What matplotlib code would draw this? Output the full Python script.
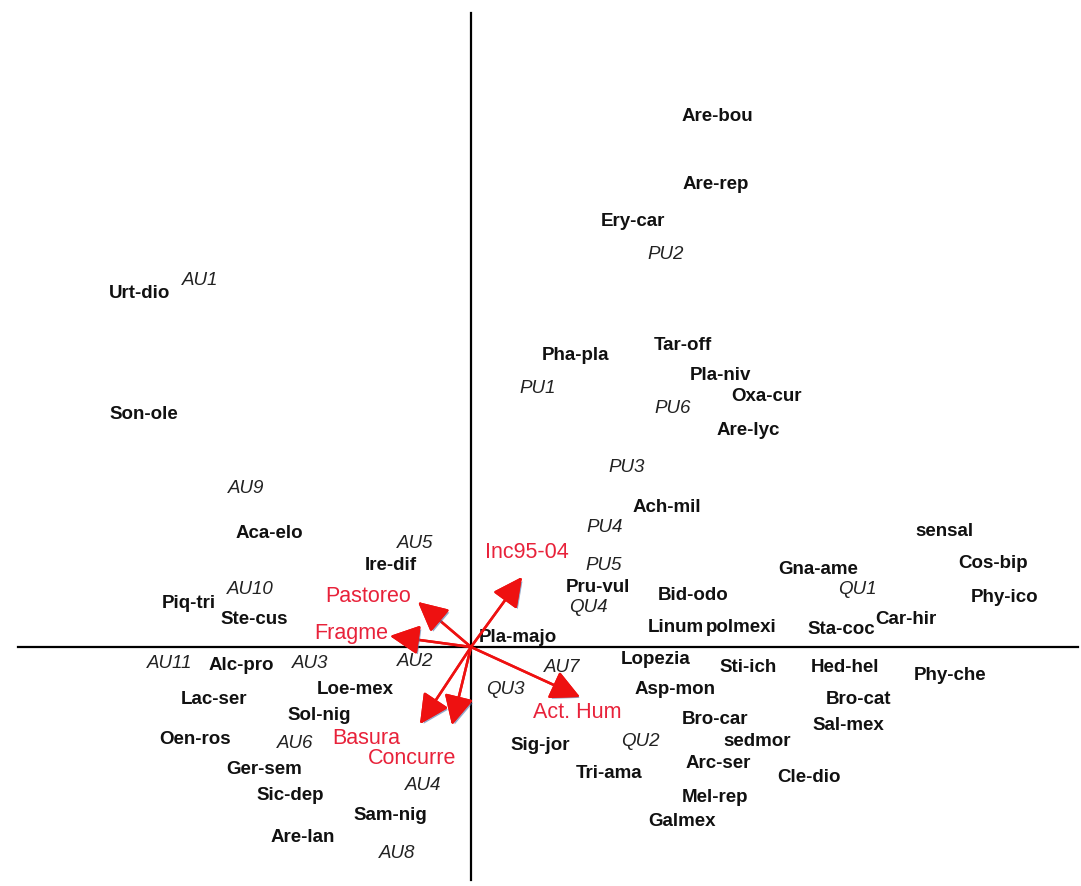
import matplotlib
matplotlib.use("Agg")
import matplotlib.pyplot as plt
import matplotlib.patheffects as pe

# CCA ordination scores (axis 1, axis 2)
species = ["Are-bou", "Are-rep", "Ery-car", "Urt-dio", "Pha-pla", "Tar-off", "Pla-niv",
           "Oxa-cur", "Are-lyc", "Son-ole", "Ach-mil", "Aca-elo", "Ire-dif", "sensal",
           "Cos-bip", "Gna-ame", "Pru-vul", "Bid-odo", "Phy-ico", "Piq-tri", "Ste-cus",
           "Linum", "polmexi", "Sta-coc", "Car-hir", "Pla-majo", "Lopezia", "Sti-ich",
           "Hed-hel", "Phy-che", "Alc-pro", "Loe-mex", "Lac-ser", "Asp-mon", "Bro-cat",
           "Sol-nig", "Bro-car", "Sal-mex", "sedmor", "Oen-ros", "Sig-jor", "Arc-ser",
           "Ger-sem", "Tri-ama", "Cle-dio", "Sic-dep", "Mel-rep", "Sam-nig", "Galmex",
           "Are-lan"]
sp_ax1 = [2.46, 2.45, 1.62, -3.31, 1.04, 2.12, 2.49, 2.95, 2.77, -3.27, 1.96, -2.02,
          -0.80, 4.73, 5.22, 3.47, 1.27, 2.22, 5.34, -2.82, -2.17, 2.05, 2.70, 3.70,
          4.35, 0.47, 1.85, 2.77, 3.74, 4.79, -2.30, -1.16, -2.57, 2.04, 3.87, -1.52,
          2.44, 3.77, 2.86, -2.76, 0.69, 2.47, -2.07, 1.38, 3.38, -1.81, 2.44, -0.81,
          2.11, -1.68]
sp_ax2 = [5.30, 4.62, 4.25, 3.53, 2.91, 3.01, 2.71, 2.50, 2.16, 2.32, 1.39, 1.14,
          0.81, 1.15, 0.83, 0.78, 0.60, 0.51, 0.50, 0.44, 0.27, 0.20, 0.20, 0.17,
          0.27, 0.10, -0.13, -0.21, -0.20, -0.28, -0.18, -0.42, -0.53, -0.42, -0.53,
          -0.69, -0.73, -0.79, -0.95, -0.93, -0.99, -1.16, -1.22, -1.27, -1.30, -1.49,
          -1.51, -1.68, -1.75, -1.90]

sites = ["AU1", "PU2", "PU1", "PU6", "PU3", "AU9", "PU4", "AU5", "PU5", "AU10", "QU1",
         "QU4", "AU11", "AU3", "AU2", "AU7", "QU3", "AU6", "QU2", "AU4", "AU8"]
st_ax1 = [-2.71, 1.95, 0.67, 2.02, 1.56, -2.25, 1.34, -0.56, 1.33, -2.21, 3.86,
          1.17, -3.01, -1.61, -0.56, 0.91, 0.34, -1.76, 1.69, -0.48, -0.74]
st_ax2 = [3.66, 3.92, 2.58, 2.38, 1.79, 1.58, 1.19, 1.04, 0.81, 0.57, 0.57,
          0.39, -0.17, -0.16, -0.14, -0.21, -0.43, -0.96, -0.94, -1.39, -2.06]

env = ["Inc95-04", "Pastoreo", "Fragme", "Basura", "Concurre", "Act. Hum"]
env_ax1 = [0.51, -0.53, -0.81, -0.51, -0.19, 1.09]
env_ax2 = [0.70, 0.45, 0.11, -0.77, -0.78, -0.50]
env_lab_ax1 = [0.56, -1.03, -1.20, -1.05, -0.59, 1.06]
env_lab_ax2 = [0.95, 0.51, 0.14, -0.91, -1.12, -0.65]

fig = plt.figure(figsize=(10.81, 8.86), dpi=100)
ax = fig.add_axes([0, 0, 1, 1])
ax.set_xlim(-4.71, 6.10)
ax.set_ylim(-2.39, 6.47)
ax.axis("off")

# ordination axes
ax.plot([-4.53, 6.07], [0, 0], color="black", lw=1.6)
ax.plot([0, 0], [-2.33, 6.34], color="black", lw=1.6)

for name, x, y in zip(species, sp_ax1, sp_ax2):
    ax.text(x, y, name, ha="center", va="center", fontsize=13.5,
            fontweight="bold", family="Liberation Sans", color="#111111")

for name, x, y in zip(sites, st_ax1, st_ax2):
    ax.text(x, y, name, ha="center", va="center", fontsize=13.5,
            fontstyle="italic", family="Liberation Sans", color="#222222")

shadow = [pe.withSimplePatchShadow(offset=(1.5, -1.5), shadow_rgbFace="#4a6fa5", alpha=0.6),
          pe.Normal()]
for x, y in zip(env_ax1, env_ax2):
    arr = ax.annotate("", xy=(x, y), xytext=(0, 0),
                      arrowprops=dict(arrowstyle="-|>,head_length=0.9,head_width=0.45",
                                      color="#ee1111", lw=1.8, mutation_scale=20,
                                      shrinkA=0, shrinkB=0))
    arr.arrow_patch.set_path_effects(shadow)

for name, x, y in zip(env, env_lab_ax1, env_lab_ax2):
    ax.text(x, y, name, ha="center", va="center", fontsize=15.5,
            family="Liberation Sans", color="#e8223a")

fig.savefig("out.png", dpi=100)
